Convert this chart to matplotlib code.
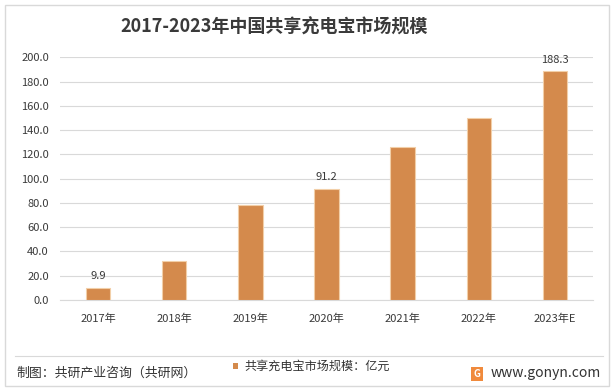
import matplotlib
matplotlib.use("Agg")
import matplotlib.pyplot as plt
from matplotlib.patches import Rectangle
from matplotlib.lines import Line2D

plt.rcParams['font.family'] = ['Noto Sans CJK SC', 'DejaVu Sans']

categories = ["2017年", "2018年", "2019年", "2020年", "2021年", "2022年", "2023年E"]
values = [9.9, 32.4, 78.3, 91.2, 126.3, 150.3, 188.3]
labeled = {0: "9.9", 3: "91.2", 6: "188.3"}
yticks = [0, 20, 40, 60, 80, 100, 120, 140, 160, 180, 200]

title = "2017-2023年中国共享充电宝市场规模"
legend_label = "共享充电宝市场规模：亿元"
source = "制图：共研产业咨询（共研网）"
site = "www.gonyn.com"

W, H = 615, 391
fig = plt.figure(figsize=(W / 100, H / 100), dpi=100)
fig.patch.set_facecolor("white")

bar_color = "#D48A4C"
text_color = "#3A3A3A"

ax = fig.add_axes([60 / W, 1 - 300 / H, 533 / W, (300 - 57.3) / H])
x = range(len(categories))
ax.bar(x, values, width=0.32, color=bar_color, edgecolor="#F2CFA8", linewidth=0.8, zorder=3)
ax.set_xlim(-0.5, len(categories) - 0.5)
ax.set_ylim(0, 200)
ax.set_yticks(yticks)
ax.set_yticklabels([f"{v:.1f}" for v in yticks], fontsize=8, color=text_color)
ax.set_xticks(list(x))
ax.set_xticklabels(categories, fontsize=8, color=text_color)
ax.tick_params(axis="both", length=0, pad=8)
ax.tick_params(axis="x", pad=10)
ax.grid(axis="y", color="#D9D9D9", linewidth=0.8, zorder=0)
for s in ["top", "right", "left"]:
    ax.spines[s].set_visible(False)
ax.spines["bottom"].set_color("#D9D9D9")
ax.spines["bottom"].set_linewidth(0.8)
for i, lab in labeled.items():
    ax.annotate(lab, (i, values[i]), xytext=(0, 5), textcoords="offset points",
                ha="center", va="bottom", fontsize=8, color=text_color)

# title
fig.text(274 / W, 1 - 27 / H, title, ha="center", va="center", fontsize=13,
         fontweight="bold", color=text_color)

# border
fig.add_artist(Rectangle((5 / W, 5 / H), 604 / W, 381 / H, transform=fig.transFigure,
                         fill=False, edgecolor="#D9D9D9", linewidth=1))
# separator
fig.add_artist(Line2D([15 / W, 603 / W], [1 - 356 / H, 1 - 356 / H], transform=fig.transFigure,
                      color="#D9D9D9", linewidth=0.8))

# footer
fig.text(16 / W, 1 - 373 / H, source, ha="left", va="center", fontsize=9.3, color="#333333")
fig.add_artist(Rectangle((233 / W, 1 - 369 / H), 5 / W, 6 / H, transform=fig.transFigure,
                         facecolor=bar_color, edgecolor="none"))
fig.text(244 / W, 1 - 366 / H, legend_label, ha="left", va="center", fontsize=8.7, color="#333333")
# logo
fig.add_artist(Rectangle((471 / W, 1 - 381 / H), 12 / W, 14 / H, transform=fig.transFigure,
                         facecolor="#F08A3C", edgecolor="none"))
fig.text(477 / W, 1 - 374 / H, "G", ha="center", va="center", fontsize=7, fontweight="bold",
         color="white")
fig.text(491 / W, 1 - 373 / H, site, ha="left", va="center", fontsize=10, color="#333333")

fig.savefig("out.png", dpi=100, facecolor="white")
